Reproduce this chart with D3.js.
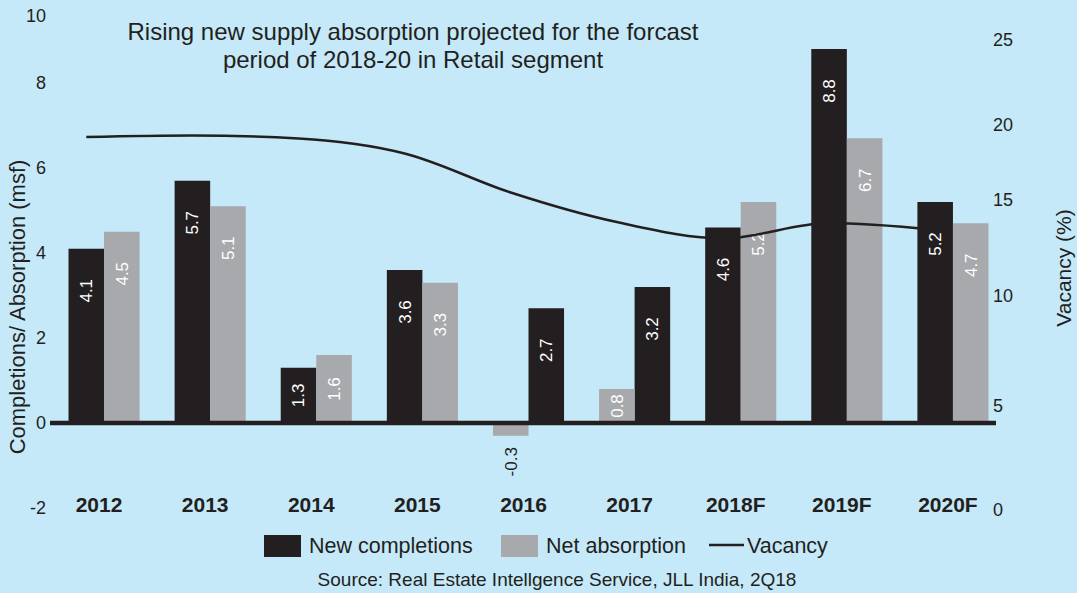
<!DOCTYPE html>
<html>
<head>
<meta charset="utf-8">
<script src="https://d3js.org/d3.v7.min.js"></script>
<style>
  body { margin: 0; background: #c5e9f8; }
  svg { display: block; font-family: "Liberation Sans", Arial, sans-serif; }
  text { fill: #231f20; }
</style>
</head>
<body>
<div id="chart"></div>
<script>
// data
const years = ["2012", "2013", "2014", "2015", "2016", "2017", "2018F", "2019F", "2020F"];
const completions = [4.1, 5.7, 1.3, 3.6, 2.7, 3.2, 4.6, 8.8, 5.2];
const absorption = [4.5, 5.1, 1.6, 3.3, -0.3, 0.8, 5.2, 6.7, 4.7];
const vacancy = [19.2, 19.3, 19.1, 18.1, 15.5, 13.85, 13.0, 13.8, 13.45];
const absorptionFirst = ["2016", "2017"];   // these years draw the grey bar on the left
const leftTicks = [-2, 0, 2, 4, 6, 8, 10];
const rightTicks = [0, 5, 10, 15, 20, 25];

const W = 1077, H = 593;
const dark = "#231f20", grey = "#a7a9ac";

const svg = d3.select("#chart").append("svg")
  .attr("width", W).attr("height", H);

svg.append("rect").attr("width", W).attr("height", H).attr("fill", "#c5e9f8");

const x = d3.scaleBand().domain(years).range([51, 1006])
  .paddingInner(0.33).paddingOuter(0.165);
const bw = x.bandwidth();

const y = d3.scaleLinear().domain([-2, 10]).range([508, -2]);
// right axis labels are not evenly spaced in the original
const yR = d3.scaleLinear().domain(rightTicks).range([510, 406, 296, 200, 125, 40]);

// left tick labels
svg.append("g").selectAll("text")
  .data(leftTicks).join("text")
  .attr("x", 46)
  .attr("y", d => Math.max(y(d), 16))
  .attr("dy", "0.35em")
  .attr("text-anchor", "end")
  .style("font-size", "18px")
  .text(d => d);

// right tick labels
svg.append("g").selectAll("text")
  .data(rightTicks).join("text")
  .attr("x", 993)
  .attr("y", d => yR(d))
  .attr("dy", "0.35em")
  .style("font-size", "18px")
  .text(d => d);

// bars
const rows = years.map((yr, i) => ({
  yr: yr,
  vals: [
    { key: "completions", v: completions[i], fill: dark },
    { key: "absorption", v: absorption[i], fill: grey }
  ]
}));

const groups = svg.append("g").selectAll("g")
  .data(rows).join("g")
  .attr("transform", d => "translate(" + x(d.yr) + ",0)");

function subX(yr) {
  const dom = absorptionFirst.includes(yr) ? ["absorption", "completions"] : ["completions", "absorption"];
  return d3.scaleBand().domain(dom).range([0, bw]);
}

groups.each(function(r) {
  const x1 = subX(r.yr);
  const g = d3.select(this);
  g.selectAll("rect")
    .data(r.vals).join("rect")
    .attr("x", d => x1(d.key))
    .attr("width", x1.bandwidth())
    .attr("y", d => y(Math.max(d.v, 0)))
    .attr("height", d => Math.abs(y(d.v) - y(0)))
    .attr("fill", d => d.fill);

  g.selectAll("text")
    .data(r.vals).join("text")
    .attr("transform", d => {
      const cx = x1(d.key) + x1.bandwidth() / 2;
      let cy;
      if (d.v < 0) cy = y(d.v) + 26;
      else cy = Math.min(y(d.v) + 42, (y(d.v) + y(0)) / 2);
      return "translate(" + cx + "," + cy + ") rotate(-90)";
    })
    .attr("dy", "0.35em")
    .attr("text-anchor", "middle")
    .style("font-size", "17px")
    .style("fill", d => d.v < 0 ? dark : "#fff")
    .text(d => d.v);
});

// zero line
svg.append("line")
  .attr("x1", 50).attr("x2", 996)
  .attr("y1", y(0)).attr("y2", y(0))
  .attr("stroke", dark).attr("stroke-width", 4.5);

// vacancy line (right axis)
const line = d3.line()
  .x((d, i) => x(years[i]) + bw / 4)
  .y(d => yR(d))
  .curve(d3.curveMonotoneX);

svg.append("path")
  .datum(vacancy)
  .attr("d", line)
  .attr("fill", "none")
  .attr("stroke", dark)
  .attr("stroke-width", 2.5);

// category labels
svg.append("g").selectAll("text")
  .data(years).join("text")
  .attr("x", d => x(d) + bw / 2 - 5)
  .attr("y", 512)
  .attr("text-anchor", "middle")
  .style("font-size", "21px")
  .style("font-weight", "bold")
  .text(d => d);

// title
const title = svg.append("text")
  .attr("text-anchor", "middle")
  .style("font-size", "24px");
title.append("tspan").attr("x", 413).attr("y", 40)
  .text("Rising new supply absorption projected for the forcast");
title.append("tspan").attr("x", 413).attr("y", 68)
  .text("period of 2018-20 in Retail segment");

// axis titles
svg.append("text")
  .attr("transform", "translate(17,307) rotate(-90)")
  .attr("dy", "0.35em")
  .attr("text-anchor", "middle")
  .style("font-size", "22px")
  .text("Completions/ Absorption (msf)");

svg.append("text")
  .attr("transform", "translate(1064,268) rotate(-90)")
  .attr("dy", "0.35em")
  .attr("text-anchor", "middle")
  .style("font-size", "21px")
  .text("Vacancy (%)");

// legend
const legend = svg.append("g");
legend.append("rect").attr("x", 264).attr("y", 535).attr("width", 37).attr("height", 22).attr("fill", dark);
legend.append("text").attr("x", 309).attr("y", 553).style("font-size", "21.5px").text("New completions");
legend.append("rect").attr("x", 501).attr("y", 535).attr("width", 37).attr("height", 22).attr("fill", grey);
legend.append("text").attr("x", 546).attr("y", 553).style("font-size", "21.5px").text("Net absorption");
legend.append("line").attr("x1", 709).attr("x2", 744).attr("y1", 545).attr("y2", 545)
  .attr("stroke", dark).attr("stroke-width", 2.5);
legend.append("text").attr("x", 747).attr("y", 553).style("font-size", "21.5px").text("Vacancy");

// source
svg.append("text")
  .attr("x", 557).attr("y", 586)
  .attr("text-anchor", "middle")
  .style("font-size", "19px")
  .text("Source: Real Estate Intellgence Service, JLL India, 2Q18");
</script>
</body>
</html>
